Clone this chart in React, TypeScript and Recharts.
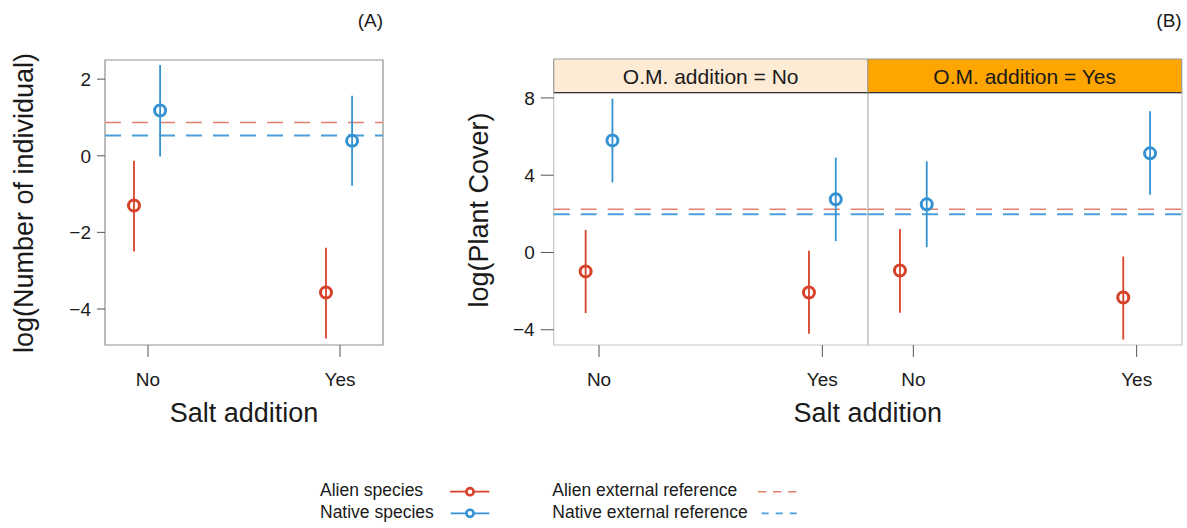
import React from "react";
import { ErrorBar, ReferenceArea, ReferenceLine, Scatter, ScatterChart, XAxis, YAxis } from "recharts";

const categories = ["No", "Yes"];

// (A) log(Number of individual)
const alienA = [-1.3, -3.57];
const alienALow = [-2.5, -4.77];
const alienAHigh = [-0.13, -2.4];
const nativeA = [1.18, 0.39];
const nativeALow = [-0.02, -0.78];
const nativeAHigh = [2.37, 1.57];
const refA = [0.87, 0.53]; // alien, native
const ticksA = [-4, -2, 0, 2];

// (B) log(Plant Cover), O.M. addition = No
const alienBNo = [-0.98, -2.07];
const alienBNoLow = [-3.14, -4.21];
const alienBNoHigh = [1.16, 0.09];
const nativeBNo = [5.8, 2.75];
const nativeBNoLow = [3.63, 0.59];
const nativeBNoHigh = [7.96, 4.91];

// (B) log(Plant Cover), O.M. addition = Yes
const alienBYes = [-0.93, -2.33];
const alienBYesLow = [-3.12, -4.51];
const alienBYesHigh = [1.21, -0.21];
const nativeBYes = [2.49, 5.13];
const nativeBYesLow = [0.27, 2.99];
const nativeBYesHigh = [4.72, 7.31];

const refB = [2.24, 1.98];
const ticksB = [-4, 0, 4, 8];
const stripLabels = ["O.M. addition = No", "O.M. addition = Yes"];

const RED = "#D8412A";
const BLUE = "#3592D2";
const RED_REF = "#E2806F";
const BLUE_REF = "#4A9EDA";
const FONT = '"Liberation Sans", Arial, Helvetica, sans-serif';

const points = (vals: number[], lo: number[], hi: number[], shift: number) =>
  vals.map((v, i) => ({ x: i + 1 + shift, y: v, err: [v - lo[i], hi[i] - v] }));

const ring = (color: string) => (p: any) =>
  <circle cx={p.cx} cy={p.cy} r={5.5} fill="none" stroke={color} strokeWidth={3} />;

const fmt = (v: number) => (v < 0 ? `\u2212${Math.abs(v)}` : `${v}`);

type PanelProps = {
  left: number;
  width: number;
  margin: { top: number; right: number; bottom: number; left: number };
  xDomain: [number, number];
  yDomain: [number, number];
  yTicks: number[];
  showY: boolean;
  yAxisWidth: number;
  yTickSize: number;
  alien: any[];
  native: any[];
  refs: number[];
  box: string;
};

const Panel = (p: PanelProps) => (
  <ScatterChart
    width={p.width}
    height={430}
    margin={p.margin}
    style={{ position: "absolute", left: p.left, top: 0 }}
  >
    <XAxis
      type="number"
      dataKey="x"
      domain={p.xDomain}
      allowDataOverflow
      ticks={[1, 2]}
      tickFormatter={(v: number) => categories[v - 1]}
      axisLine={false}
      tickLine={{ stroke: "#555" }}
      tickSize={12}
      tickMargin={16}
      height={77}
      tick={{ fontSize: 19, fill: "#1a1a1a", fontFamily: FONT }}
    />
    <YAxis
      type="number"
      dataKey="y"
      domain={p.yDomain}
      allowDataOverflow
      ticks={p.yTicks}
      tickFormatter={fmt}
      hide={!p.showY}
      width={p.yAxisWidth}
      axisLine={false}
      tickLine={{ stroke: "#555" }}
      tickSize={p.yTickSize}
      tickMargin={6}
      tick={{ fontSize: 19, fill: "#1a1a1a", fontFamily: FONT }}
    />
    <ReferenceArea
      x1={p.xDomain[0]}
      x2={p.xDomain[1]}
      y1={p.yDomain[0]}
      y2={p.yDomain[1]}
      fill="none"
      stroke={p.box}
      strokeWidth={1.2}
    />
    <ReferenceLine y={p.refs[0]} stroke={RED_REF} strokeWidth={1.6} strokeDasharray="16 11" />
    <ReferenceLine y={p.refs[1]} stroke={BLUE_REF} strokeWidth={2} strokeDasharray="16 11" />
    <Scatter data={p.alien} dataKey="y" shape={ring(RED)} isAnimationActive={false}>
      <ErrorBar dataKey="err" direction="y" width={0} stroke={RED} strokeWidth={1.8} isAnimationActive={false} />
    </Scatter>
    <Scatter data={p.native} dataKey="y" shape={ring(BLUE)} isAnimationActive={false}>
      <ErrorBar dataKey="err" direction="y" width={0} stroke={BLUE} strokeWidth={1.8} isAnimationActive={false} />
    </Scatter>
  </ScatterChart>
);

export default function App() {
  const dodgeA = [-0.073, 0.063];
  const dodgeB = [-0.06, 0.06];
  const stripTop = 59;
  const stripBottom = 92.7;
  const pB = [553.7, 867.7, 1181.7];

  return (
    <div
      style={{
        position: "absolute",
        left: 0,
        top: 0,
        width: 1187,
        height: 528,
        background: "#fff",
        fontFamily: FONT,
        overflow: "hidden",
      }}
    >
      <Panel
        left={0}
        width={400}
        margin={{ top: 60, right: 17, bottom: 8, left: 15 }}
        xDomain={[0.776, 2.224]}
        yDomain={[-4.94, 2.5]}
        yTicks={ticksA}
        showY
        yAxisWidth={90}
        yTickSize={8}
        alien={points(alienA, alienALow, alienAHigh, dodgeA[0])}
        native={points(nativeA, nativeALow, nativeAHigh, dodgeA[1])}
        refs={refA}
        box="#8f8f8f"
      />
      <Panel
        left={440}
        width={432.7}
        margin={{ top: stripBottom, right: 5, bottom: 8, left: 20 }}
        xDomain={[0.797, 2.203]}
        yDomain={[-4.79, 8.27]}
        yTicks={ticksB}
        showY
        yAxisWidth={93.7}
        yTickSize={13}
        alien={points(alienBNo, alienBNoLow, alienBNoHigh, dodgeB[0])}
        native={points(nativeBNo, nativeBNoLow, nativeBNoHigh, dodgeB[1])}
        refs={refB}
        box="#c6c6c6"
      />
      <Panel
        left={862.7}
        width={324.3}
        margin={{ top: stripBottom, right: 5.3, bottom: 8, left: 5 }}
        xDomain={[0.797, 2.203]}
        yDomain={[-4.79, 8.27]}
        yTicks={ticksB}
        showY={false}
        yAxisWidth={0}
        yTickSize={13}
        alien={points(alienBYes, alienBYesLow, alienBYesHigh, dodgeB[0])}
        native={points(nativeBYes, nativeBYesLow, nativeBYesHigh, dodgeB[1])}
        refs={refB}
        box="#c6c6c6"
      />
      <svg
        width={1187}
        height={528}
        style={{ position: "absolute", left: 0, top: 0, pointerEvents: "none" }}
        fontFamily={FONT}
        fill="#1a1a1a"
      >
        <text x={383} y={27} fontSize={19} textAnchor="end">(A)</text>
        <text x={1181.7} y={27} fontSize={19} textAnchor="end">(B)</text>

        <text transform="translate(32.6,203) rotate(-90)" fontSize={27} textAnchor="middle">
          log(Number of individual)
        </text>
        <text transform="translate(487.6,210) rotate(-90)" fontSize={27} textAnchor="middle">
          log(Plant Cover)
        </text>
        <text x={244} y={422} fontSize={27} textAnchor="middle">Salt addition</text>
        <text x={pB[1]} y={422} fontSize={27} textAnchor="middle">Salt addition</text>

        {/* strips */}
        <rect x={pB[0]} y={stripTop} width={pB[1] - pB[0]} height={stripBottom - stripTop} fill="#FEEBD6" />
        <rect x={pB[1]} y={stripTop} width={pB[2] - pB[1]} height={stripBottom - stripTop} fill="#FFA500" />
        <line x1={pB[0]} x2={pB[2]} y1={stripTop} y2={stripTop} stroke="#9a9a9a" strokeWidth={1.2} />
        <line x1={pB[0]} x2={pB[2]} y1={stripBottom} y2={stripBottom} stroke="#333" strokeWidth={1.2} />
        {pB.map((x, i) => (
          <line key={i} x1={x} x2={x} y1={stripTop} y2={stripBottom} stroke="#9a9a9a" strokeWidth={1.2} />
        ))}
        {stripLabels.map((s, i) => (
          <text key={s} x={(pB[i] + pB[i + 1]) / 2} y={83.5} fontSize={21} textAnchor="middle">
            {s}
          </text>
        ))}

        {/* legend */}
        <text x={320} y={495.7} fontSize={17.5}>Alien species</text>
        <text x={320} y={518.3} fontSize={17.5}>Native species</text>
        <line x1={450} x2={489.3} y1={491.7} y2={491.7} stroke={RED} strokeWidth={1.8} />
        <circle cx={470} cy={491.7} r={3.6} fill="#fff" stroke={RED} strokeWidth={2.6} />
        <line x1={450.7} x2={489.3} y1={513.3} y2={513.3} stroke={BLUE} strokeWidth={1.8} />
        <circle cx={470} cy={513.3} r={3.6} fill="#fff" stroke={BLUE} strokeWidth={2.6} />
        <text x={552.3} y={495.7} fontSize={17.5}>Alien external reference</text>
        <text x={552.3} y={518.3} fontSize={17.5}>Native external reference</text>
        <line x1={758} x2={797} y1={491.7} y2={491.7} stroke={RED_REF} strokeWidth={1.5} strokeDasharray="8.3 6.7" />
        <line x1={761.7} x2={797} y1={513.3} y2={513.3} stroke={BLUE_REF} strokeWidth={1.8} strokeDasharray="7 7" />
      </svg>
    </div>
  );
}
